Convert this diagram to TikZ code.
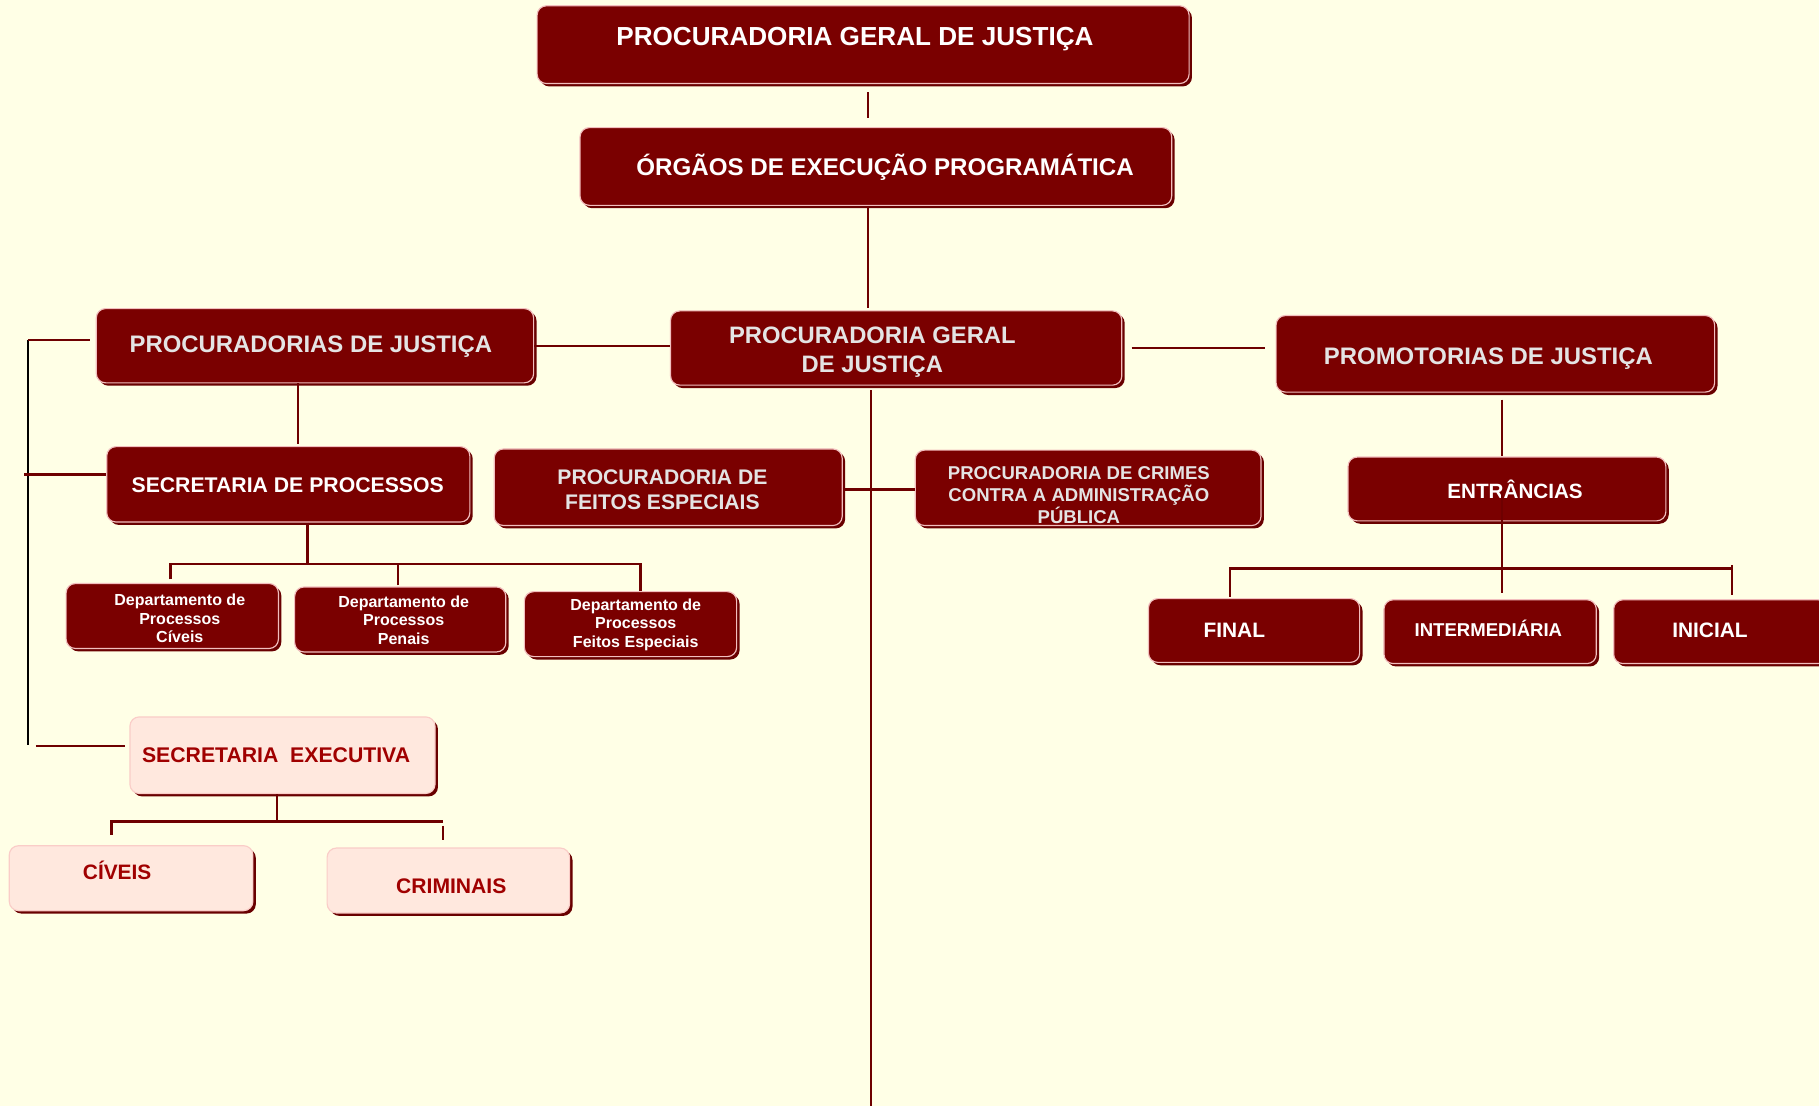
\documentclass[tikz,border=0pt]{standalone}
\usepackage{fontspec}
\setmainfont{Liberation Sans}
\definecolor{bg}{RGB}{255,255,230}
\definecolor{boxred}{RGB}{122,0,0}
\definecolor{edgepink}{RGB}{242,190,190}
\definecolor{shadowred}{RGB}{105,0,0}
\definecolor{pinkfill}{RGB}{255,232,222}
\definecolor{pinkedge}{RGB}{250,205,200}
\definecolor{pinktext}{RGB}{160,0,0}
\definecolor{linered}{RGB}{110,0,0}
\definecolor{lgray}{RGB}{228,228,228}
\newcommand{\fs}[2]{\fontsize{#1}{#2}\selectfont\bfseries}
\tikzset{
  darkbox/.style={rounded corners=8pt, fill=boxred, draw=edgepink, line width=1pt, inner sep=0pt,
    preaction={fill=shadowred, draw=none, transform canvas={xshift=2.5pt,yshift=-2.5pt}}},
  pinkbox/.style={rounded corners=8pt, fill=pinkfill, draw=pinkedge, line width=1pt, inner sep=0pt,
    preaction={fill=shadowred, draw=none, transform canvas={xshift=2.5pt,yshift=-2.5pt}}},
  txt/.style={inner sep=0pt, align=center, text=white},
  gtxt/.style={txt, text=lgray},
  ptxt/.style={txt, text=pinktext},
  conn/.style={draw=linered, line width=2pt},
  bconn/.style={draw=black, line width=2pt},
}
\begin{document}
\begin{tikzpicture}[x=1pt,y=-1pt]
\fill[bg] (0,0) rectangle (1568,953);
\useasboundingbox (0,0) rectangle (1568,953);
\clip (0,0) rectangle (1568,953);

% boxes
\node[darkbox, minimum width=562pt, minimum height=67pt] (top) at (744,38.5) {};
\node[darkbox, minimum width=510pt, minimum height=67pt] (org) at (755,143.5) {};
\node[darkbox, minimum width=377pt, minimum height=64pt] (procs) at (271.5,298) {};
\node[darkbox, minimum width=389pt, minimum height=64pt] (pgj) at (772.5,300) {};
\node[darkbox, minimum width=378pt, minimum height=66pt] (promo) at (1289,305) {};
\node[darkbox, minimum width=313pt, minimum height=65pt] (secp) at (248.5,417.5) {};
\node[darkbox, minimum width=300pt, minimum height=66pt] (feitos) at (576,420) {};
\node[darkbox, minimum width=298pt, minimum height=65pt] (crimes) at (938,420.5) {};
\node[darkbox, minimum width=274pt, minimum height=55pt] (entr) at (1299,421.5) {};
\node[darkbox, minimum width=183pt, minimum height=56pt] (dciv) at (148.5,531) {};
\node[darkbox, minimum width=182pt, minimum height=56pt] (dpen) at (345,534) {};
\node[darkbox, minimum width=183pt, minimum height=56pt] (dfe) at (543.5,538) {};
\node[darkbox, minimum width=182pt, minimum height=55pt] (final) at (1081,543.5) {};
\node[darkbox, minimum width=183pt, minimum height=55pt] (inter) at (1284.5,544.5) {};
\node[darkbox, minimum width=184pt, minimum height=55pt] (inic) at (1483,544.5) {};
\node[pinkbox, minimum width=263pt, minimum height=66pt] (secex) at (243.5,651) {};
\node[pinkbox, minimum width=210pt, minimum height=56pt] (civ) at (113,757) {};
\node[pinkbox, minimum width=209pt, minimum height=56pt] (crim) at (386.5,759) {};

% texts
\node[txt, font=\fs{22.5}{26}] (topt) at (737,34) {PROCURADORIA GERAL DE JUSTIÇA};
\node[txt, font=\fs{20.8}{24}] (orgt) at (763,144) {ÓRGÃOS DE EXECUÇÃO PROGRAMÁTICA};
\node[gtxt, font=\fs{20.6}{24}] (procst) at (268,299) {PROCURADORIAS DE JUSTIÇA};
\node[gtxt, font=\fs{20.5}{25}] (pgjt) at (752,303.5) {PROCURADORIA GERAL\\DE JUSTIÇA};
\node[gtxt, font=\fs{20.6}{24}] (promot) at (1283,309) {PROMOTORIAS DE JUSTIÇA};
\node[txt, font=\fs{18.3}{22}] (secpt) at (248,418) {SECRETARIA DE PROCESSOS};
\node[gtxt, font=\fs{18.2}{22}] (feitost) at (571,422) {PROCURADORIA DE\\FEITOS ESPECIAIS};
\node[gtxt, font=\fs{16}{19}] (crimest) at (930,427) {PROCURADORIA DE CRIMES\\CONTRA A ADMINISTRAÇÃO\\PÚBLICA};
\node[txt, font=\fs{17.8}{21}] (entrt) at (1306,422) {ENTRÂNCIAS};
\node[txt, font=\fs{13.8}{16}] (dcivt) at (155,533) {Departamento de\\Processos\\Cíveis};
\node[txt, font=\fs{13.8}{16}] (dpent) at (348,534.5) {Departamento de\\Processos\\Penais};
\node[txt, font=\fs{13.8}{16}] (dfet) at (548,538.5) {Departamento de\\Processos\\Feitos Especiais};
\node[txt, font=\fs{18}{21}] (finalt) at (1064,543) {FINAL};
\node[txt, font=\fs{16}{19}] (intert) at (1283,542) {INTERMEDIÁRIA};
\node[txt, font=\fs{18}{21}] (inict) at (1474,543) {INICIAL};
\node[ptxt, font=\fs{18.3}{22}] (secext) at (238,651) {SECRETARIA\ \ EXECUTIVA};
\node[ptxt, font=\fs{18}{21}] (civt) at (101,750) {CÍVEIS};
\node[ptxt, font=\fs{18.2}{22}] (crimt) at (389,764) {CRIMINAIS};

% junction coordinates
\coordinate (bot) at (751,953);
\coordinate (lbtop) at (24,293);
\coordinate (lbbot) at (24,642);
\coordinate (lbmid) at (21,409);
\coordinate (lblow) at (31,643);
\coordinate (sbus) at (265,486);
\coordinate (ebus) at (1295,490);
\coordinate (ebr) at (1493,490);
\coordinate (ebtick) at (1493,487);
\coordinate (xbus) at (239,708);
\coordinate (xbusr) at (382,708);
\coordinate (xtick) at (382,712);

% connectors
\draw[conn] ([xshift=4pt,yshift=-7pt]top.south) -- ([xshift=-7pt,yshift=8pt]org.north);
\draw[conn] ([xshift=-7pt]org.south) -- ([xshift=-24.5pt,yshift=2pt]pgj.north);
\draw[conn] (procs.east) -- (procs.east -| pgj.west);
\draw[conn] ([xshift=8pt]pgj.east) -- ([xshift=-9pt]pgj.east -| promo.west);
\draw[conn] ([xshift=-21.5pt,yshift=-4pt]pgj.south) -- (bot);
\draw[conn] ([yshift=-2pt]feitos.east) -- ([yshift=-2pt]feitos.east -| crimes.west);
\draw[conn] ([xshift=-14.5pt]procs.south) -- ([xshift=-14.5pt,yshift=2pt]procs.south |- secp.north);
% left bracket
\draw[bconn] (lbtop) -- (lbbot);
\draw[conn] (lbtop) -- ([xshift=-5pt,yshift=5pt]procs.west);
\draw[conn] (lbmid) -- ([yshift=8.5pt]secp.west);
\draw[conn] (lblow) -- ([xshift=-4pt,yshift=8pt]secex.west);
% secretaria de processos branch
\draw[conn] ([xshift=16.5pt]secp.south) -- (sbus);
\draw[conn] ([xshift=-1.5pt,yshift=3pt]dciv.north) |- (sbus) -| ([xshift=8.5pt,yshift=0pt]dfe.north);
\draw[conn] ([xshift=-2pt,yshift=1pt]dpen.north) -- ([xshift=-2pt]dpen.north |- sbus);
% promotorias branch
\draw[conn] ([xshift=6pt,yshift=-6pt]promo.south) -- ([xshift=-4pt]entr.north);
\draw[conn] ([xshift=-4pt,yshift=25pt]entr.south) -- ([xshift=10.5pt,yshift=5pt]inter.north);
\draw[conn] ([xshift=-21pt,yshift=1pt]final.north) |- (ebr);
\draw[conn] (ebtick) -- ([xshift=10pt,yshift=4pt]inic.north);
% secretaria executiva branch
\draw[conn] ([xshift=-4.5pt]secex.south) -- (xbus);
\draw[conn] ([xshift=-17pt,yshift=9pt]civ.north) |- (xbusr);
\draw[conn] (xtick) -- ([xshift=-4.5pt,yshift=6pt]crim.north);
\end{tikzpicture}
\end{document}
